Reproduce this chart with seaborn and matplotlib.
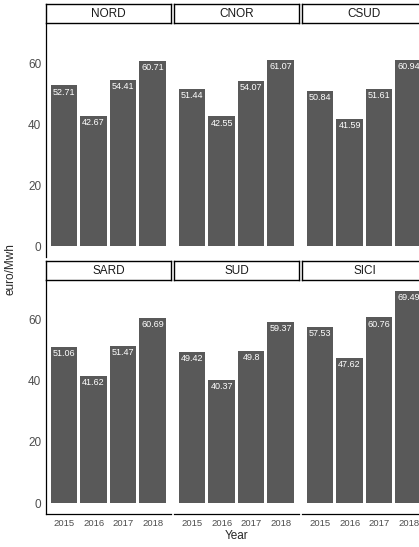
import seaborn as sns
import matplotlib.pyplot as plt
import pandas as pd

# -----------------------------------------------------------
# Data: average zonal price (euro/Mwh) by year
# -----------------------------------------------------------
zones = ["NORD", "CNOR", "CSUD", "SARD", "SUD", "SICI"]
years = ["2015", "2016", "2017", "2018"]
nord = [52.71, 42.67, 54.41, 60.71]
cnor = [51.44, 42.55, 54.07, 61.07]
csud = [50.84, 41.59, 51.61, 60.94]
sard = [51.06, 41.62, 51.47, 60.69]
sud = [49.42, 40.37, 49.8, 59.37]
sici = [57.53, 47.62, 60.76, 69.49]

prices = {"NORD": nord, "CNOR": cnor, "CSUD": csud,
          "SARD": sard, "SUD": sud, "SICI": sici}
rows = []
for z in zones:
    for y, v in zip(years, prices[z]):
        rows.append({"Zone": z, "Year": y, "Price": v})
df = pd.DataFrame(rows)

# -----------------------------------------------------------
# Style (ggplot theme_classic look)
# -----------------------------------------------------------
sns.set_style("white")
plt.rcParams["font.family"] = ["Liberation Sans", "DejaVu Sans"]

W, H = 419, 547
fig = plt.figure(figsize=(W / 100, H / 100))

col_left = [46.3, 174.3, 302.3]
col_w = 124.2
panel_top = [23.5, 280.2]
panel_h = 233.5
strip_top = [4.3, 261.3]
strip_h = 19.0

bar_color = "#595959"
tick_color = "#4D4D4D"

for i, z in enumerate(zones):
    r, c = divmod(i, 3)
    x0 = col_left[c] / W
    ax = fig.add_axes([x0, 1 - (panel_top[r] + panel_h) / H, col_w / W, panel_h / H])
    sub = df[df["Zone"] == z]
    sns.barplot(data=sub, x="Year", y="Price", order=years, color=bar_color,
                saturation=1, width=0.9, errorbar=None, linewidth=0, ax=ax)
    for j, v in enumerate(sub["Price"]):
        ax.text(j, v - 0.7, f"{v:g}", ha="center", va="top",
                color="white", fontsize=6.5)

    ax.set_xlim(-0.6, 3.6)
    ax.set_ylim(-3.47, 72.96)
    ax.set_yticks([0, 20, 40, 60])
    ax.set_xlabel("")
    ax.set_ylabel("")
    ax.set_facecolor("white")
    for s in ["top", "right"]:
        ax.spines[s].set_visible(False)
    ax.tick_params(colors="#333333", labelcolor=tick_color, length=2.2, width=0.6)

    if c == 0:
        ax.spines["left"].set_linewidth(0.9)
        ax.spines["left"].set_color("black")
        ax.tick_params(axis="y", labelsize=8.5, pad=1.5)
    else:
        ax.spines["left"].set_visible(False)
        ax.tick_params(axis="y", left=False, labelleft=False)

    if r == 1:
        ax.spines["bottom"].set_linewidth(0.9)
        ax.spines["bottom"].set_color("black")
        ax.tick_params(axis="x", labelsize=6.8, pad=1.5)
    else:
        ax.spines["bottom"].set_visible(False)
        ax.tick_params(axis="x", bottom=False, labelbottom=False)

    # facet strip
    sax = fig.add_axes([x0, 1 - (strip_top[r] + strip_h) / H, col_w / W, strip_h / H])
    sax.set_xticks([])
    sax.set_yticks([])
    sax.set_facecolor("white")
    for s in sax.spines.values():
        s.set_visible(True)
        s.set_color("black")
        s.set_linewidth(1.0)
    sax.text(0.5, 0.5, z, ha="center", va="center", fontsize=8.5,
             color="#1A1A1A", transform=sax.transAxes)

fig.text(10 / W, 1 - 269 / H, "euro/Mwh", rotation=90, ha="center",
         va="center", fontsize=8.5)
fig.text(236.5 / W, 1 - 536 / H, "Year", ha="center", va="center", fontsize=8.5)

fig.savefig("out.png", dpi=100)
